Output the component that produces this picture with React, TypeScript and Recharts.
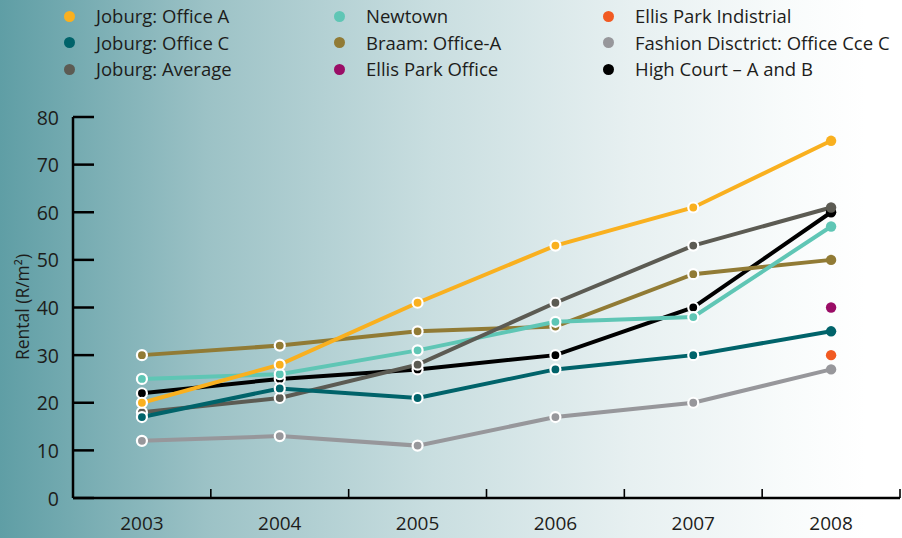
import { LineChart, Line, XAxis, YAxis } from "recharts";

const years = ["2003", "2004", "2005", "2006", "2007", "2008"];

const joburgOfficeA = [20, 28, 41, 53, 61, 75];
const joburgOfficeC = [17, 23, 21, 27, 30, 35];
const joburgAverage = [18, 21, 28, 41, 53, 61];
const newtown = [25, 26, 31, 37, 38, 57];
const braamOfficeA = [30, 32, 35, 36, 47, 50];
const ellisParkOffice = [null, null, null, null, null, 40];
const ellisParkIndustrial = [null, null, null, null, null, 30];
const fashionDistrict = [12, 13, 11, 17, 20, 27];
const highCourt = [22, 25, 27, 30, 40, 60];

const yTicks = [0, 10, 20, 30, 40, 50, 60, 70, 80];

// legend order as in the source (3 columns, read down)
const series = [
  { key: "officeA", name: "Joburg: Office A", color: "#F9B01F", values: joburgOfficeA },
  { key: "officeC", name: "Joburg: Office C", color: "#00636A", values: joburgOfficeC },
  { key: "average", name: "Joburg: Average", color: "#5C5B53", values: joburgAverage },
  { key: "newtown", name: "Newtown", color: "#5FC6B5", values: newtown },
  { key: "braam", name: "Braam: Office-A", color: "#917B35", values: braamOfficeA },
  { key: "ellisOffice", name: "Ellis Park Office", color: "#9A0D66", values: ellisParkOffice },
  { key: "ellisInd", name: "Ellis Park Indistrial", color: "#F15A22", values: ellisParkIndustrial },
  { key: "fashion", name: "Fashion Disctrict: Office Cce C", color: "#97979B", values: fashionDistrict },
  { key: "highCourt", name: "High Court – A and B", color: "#000000", values: highCourt },
];

// drawing order, bottom to top
const drawOrder = ["highCourt", "fashion", "ellisInd", "ellisOffice", "braam", "newtown", "average", "officeC", "officeA"];

const data = years.map((year, i) => {
  const row: Record<string, string | number | null> = { year };
  series.forEach((s) => (row[s.key] = s.values[i]));
  return row;
});

const FONT = "'Open Sans', 'Noto Sans', sans-serif";
const TEXT = "#1d1d1b";

function makeDot(color: string) {
  return (props: any) => {
    const { cx, cy, index, value } = props;
    if (value == null || cx == null || cy == null) return <g key={`d-${index}`} />;
    const last = index === years.length - 1;
    return (
      <circle
        key={`d-${index}`}
        cx={cx}
        cy={cy}
        r={last ? 5.2 : 5}
        fill={color}
        stroke={last ? "none" : "#ffffff"}
        strokeWidth={last ? 0 : 2.2}
      />
    );
  };
}

// year label centred in the band, small tick mark on the band's right edge
function YearTick(props: any) {
  const { x, y, payload } = props;
  const half = payload?.offset || 827 / 12;
  return (
    <g>
      <line x1={x + half} x2={x + half} y1={y} y2={y - 9} stroke="#000" strokeWidth={1.6} />
      <text x={x} y={y + 25} textAnchor="middle" dominantBaseline="central" fill={TEXT} fontSize={19} fontFamily={FONT}>
        {payload.value}
      </text>
    </g>
  );
}

// value label outside, tick line pointing into the plot
function ValueTick(props: any) {
  const { x, y, payload } = props;
  return (
    <g>
      <line x1={x} x2={x + 21} y1={y} y2={y} stroke="#000" strokeWidth={2.5} />
      <text x={x - 14} y={y} textAnchor="end" dominantBaseline="central" fill={TEXT} fontSize={19.5} fontFamily={FONT}>
        {payload.value}
      </text>
    </g>
  );
}

function LegendBlock() {
  const cols = [series.slice(0, 3), series.slice(3, 6), series.slice(6, 9)];
  const colLeft = [64, 334, 603];
  return (
    <div style={{ position: "absolute", left: 0, top: 0, width: 902, height: 90, fontFamily: FONT }}>
      {cols.map((col, c) =>
        col.map((s, r) => (
          <div
            key={s.key}
            style={{
              position: "absolute",
              left: colLeft[c],
              top: 3 + r * 26.5,
              display: "flex",
              alignItems: "center",
              gap: 21,
              fontSize: 18.5,
              lineHeight: "26px",
              color: TEXT,
              whiteSpace: "nowrap",
            }}
          >
            <span style={{ width: 11, height: 11, borderRadius: "50%", background: s.color, display: "inline-block" }} />
            <span>{s.name}</span>
          </div>
        ))
      )}
    </div>
  );
}

export default function App() {
  return (
    <div
      style={{
        position: "absolute",
        left: 0,
        top: 0,
        width: 902,
        height: 538,
        overflow: "hidden",
        background:
          "linear-gradient(to right, #5f9ea5 0%, #9cc2c6 23%, #c9dee0 48%, #e7f0f1 70%, #f8fbfb 87%, #ffffff 96%)",
      }}
    >
      <LineChart width={902} height={538} data={data} margin={{ top: 117, right: 2, bottom: 0, left: 0 }}>
        <XAxis
          dataKey="year"
          scale="band"
          axisLine={{ stroke: "#000", strokeWidth: 2.5 }}
          tickLine={false}
          tickSize={0}
          tickMargin={0}
          tick={<YearTick />}
          interval={0}
          height={40}
        />
        <YAxis
          width={73}
          domain={[0, 80]}
          ticks={yTicks}
          interval={0}
          axisLine={{ stroke: "#000", strokeWidth: 2.5 }}
          tickLine={false}
          tickSize={0}
          tickMargin={0}
          tick={<ValueTick />}
          label={{
            value: "Rental (R/m²)",
            content: () => (
              <text
                x={22}
                y={307}
                transform="rotate(-90 22 307)"
                textAnchor="middle"
                dominantBaseline="central"
                fill={TEXT}
                fontSize={17.5}
                fontFamily={FONT}
              >
                Rental (R/m²)
              </text>
            ),
          }}
        />
        {drawOrder.map((k) => {
          const s = series.find((x) => x.key === k)!;
          return (
            <Line
              key={k}
              dataKey={k}
              name={s.name}
              stroke={s.color}
              strokeWidth={4}
              dot={makeDot(s.color)}
              activeDot={false}
              isAnimationActive={false}
              connectNulls={false}
            />
          );
        })}
      </LineChart>
      <LegendBlock />
    </div>
  );
}
